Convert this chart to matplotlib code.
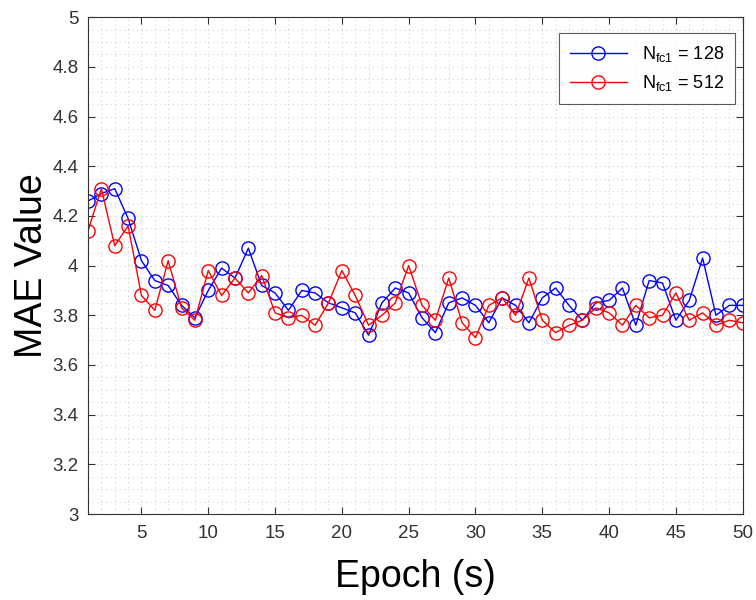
import numpy as np
import matplotlib.pyplot as plt
from matplotlib.ticker import MultipleLocator

plt.rcParams['font.family'] = ['Liberation Sans', 'DejaVu Sans']
plt.rcParams['mathtext.fontset'] = 'custom'
plt.rcParams['mathtext.rm'] = 'Liberation Sans'

epochs = np.arange(1, 51)

# MAE per epoch
mae_128 = [4.26, 4.29, 4.31, 4.19, 4.02, 3.94, 3.92, 3.84, 3.79, 3.90,
           3.99, 3.95, 4.07, 3.92, 3.89, 3.82, 3.90, 3.89, 3.85, 3.83,
           3.81, 3.72, 3.85, 3.91, 3.89, 3.79, 3.73, 3.85, 3.87, 3.84,
           3.77, 3.87, 3.84, 3.77, 3.87, 3.91, 3.84, 3.78, 3.85, 3.86,
           3.91, 3.76, 3.94, 3.93, 3.78, 3.86, 4.03, 3.80, 3.84, 3.84]
mae_512 = [4.14, 4.31, 4.08, 4.16, 3.88, 3.82, 4.02, 3.83, 3.78, 3.98,
           3.88, 3.95, 3.89, 3.96, 3.81, 3.79, 3.80, 3.76, 3.85, 3.98,
           3.88, 3.76, 3.80, 3.85, 4.00, 3.84, 3.78, 3.95, 3.77, 3.71,
           3.84, 3.87, 3.80, 3.95, 3.78, 3.73, 3.76, 3.78, 3.83, 3.81,
           3.76, 3.84, 3.79, 3.80, 3.89, 3.78, 3.81, 3.76, 3.78, 3.77]

labels = [r'N$_{\mathrm{fc1}}$ = 128', r'N$_{\mathrm{fc1}}$ = 512']

fig = plt.figure(figsize=(7.56, 6.0), dpi=100)
ax = fig.add_axes([0.1164, 0.1433, 0.866, 0.828])

ax.plot(epochs, mae_128, color='#0000ff', lw=1.0, marker='o', ms=9.5,
        mfc='none', mew=1.0, label=labels[0])
ax.plot(epochs, mae_512, color='#ff0000', lw=1.0, marker='o', ms=9.5,
        mfc='none', mew=1.0, label=labels[1])

ax.set_xlim(1, 50)
ax.set_ylim(3, 5)
ax.xaxis.set_major_locator(MultipleLocator(5))
ax.xaxis.set_minor_locator(MultipleLocator(1))
ax.yaxis.set_major_locator(MultipleLocator(0.2))
ax.yaxis.set_minor_locator(MultipleLocator(0.05))
ax.yaxis.set_major_formatter(plt.FuncFormatter(lambda v, p: f'{v:g}'))

ax.grid(which='both', linestyle=(0, (1, 3)), color='#d4d4d4', lw=0.8)
ax.tick_params(which='major', direction='in', top=True, right=True,
               length=5, labelsize=13.5, colors='#333333')
ax.tick_params(axis='x', pad=8)
ax.tick_params(axis='y', pad=7)
ax.tick_params(which='minor', length=0)
for s in ax.spines.values():
    s.set_color('#333333')
    s.set_linewidth(0.8)

ax.set_xlabel('Epoch (s)', fontsize=27, labelpad=12)
ax.set_ylabel('MAE Value', fontsize=27, labelpad=1.5)

leg = ax.legend(loc='upper right', fontsize=13, frameon=True, fancybox=False,
                edgecolor='#333333', handlelength=3.2, borderpad=0.6,
                borderaxespad=0, bbox_to_anchor=(0.988, 0.968))
leg.get_frame().set_linewidth(0.8)

fig.savefig('out.png', dpi=100)
